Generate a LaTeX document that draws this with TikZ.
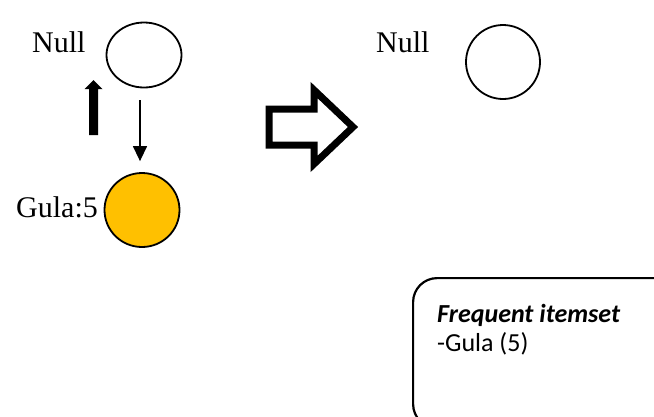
\documentclass[tikz,border=0pt]{standalone}
\usepackage{fontspec}
\setmainfont{Liberation Serif}
\newfontfamily\calibri{Carlito}
\usetikzlibrary{arrows.meta,shapes.geometric}
\definecolor{gold}{HTML}{FFC000}
\tikzset{
  treenode/.style={ellipse,draw,line width=1.8pt,inner sep=0pt},
  lbl/.style={inner sep=0pt,font=\fontsize{30}{33}\selectfont},
  boxtext/.style={inner sep=0pt,font=\calibri\fontsize{26}{30}\selectfont},
}
\begin{document}
\begin{tikzpicture}[x=1pt,y=-1pt]
\useasboundingbox (0,0) rectangle (654,416);
\clip (0,0) rectangle (654,416);
% left tree: root and the Gula node
\node[treenode,minimum width=75pt,minimum height=65pt] (rootA) at (144,55) {};
\node[lbl,anchor=base west] (nullA) at (32,52) {Null};
\node[treenode,fill=gold,minimum width=75pt,minimum height=74pt] (gula) at (142,210) {};
\node[lbl,anchor=base west] (gulaLbl) at (16,217) {Gula:5};
% link from root down to Gula
\draw[line width=1.4pt,-{Triangle[width=14pt,length=15pt]}]
  ([xshift=-4pt,yshift=-12pt]rootA.south) -- ([xshift=-2pt,yshift=11pt]gula.north);
% thick upward arrow
\fill (89,135) -- (98,135) -- (98,89) -- (102.5,89) -- (93.5,80) -- (84.5,89) -- (89,89) -- cycle;
% hollow block arrow
\draw[line width=7pt,line join=miter,miter limit=10]
  (269,109) -- (314,109) -- (314,90) -- (353,127) -- (314,164) -- (314,145) -- (269,145) -- cycle;
% right tree: root only
\node[treenode,minimum width=74pt,minimum height=74pt] (rootB) at (503,62) {};
\node[lbl,anchor=base west] (nullB) at (376,52) {Null};
% frequent itemset box (runs past the right and bottom edges)
\node[draw,line width=2.2pt,rounded corners=24pt,anchor=north west,
      minimum width=265pt,minimum height=150pt] (fbox) at (412,277) {};
\node[boxtext,anchor=base west,font=\calibri\bfseries\itshape\fontsize{26}{30}\selectfont] (fhead) at (437,322) {Frequent itemset};
\node[boxtext,anchor=base west] (fitem) at (437,351) {-Gula (5)};
\end{tikzpicture}
\end{document}
